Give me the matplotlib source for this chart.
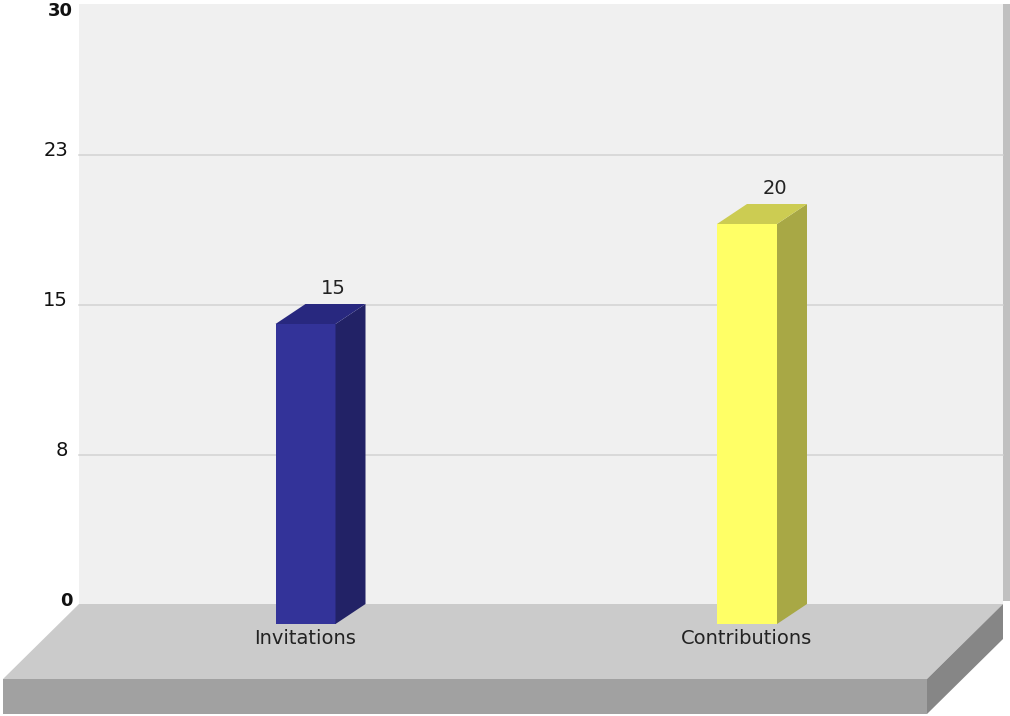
import matplotlib
matplotlib.use("Agg")
import matplotlib.pyplot as plt
from matplotlib.patches import Polygon

plt.rcParams["font.family"] = ["DejaVu Sans"]

categories = ["Invitations", "Contributions"]
values = [15, 20]
front_colors = ["#333399", "#ffff66"]
side_colors = ["#222266", "#a8a845"]
top_colors = ["#28287f", "#cccc52"]

y_ticks = [0, 7.5, 15, 22.5, 30]
y_tick_labels = ["0", "8", "15", "23", "30"]

W, H = 1010, 716
PX_PER_UNIT = 20.0   # vertical pixels for one value unit
BASE_PX = 604        # pixel row of value 0 on the back wall
X0_PX = 305.5        # centre of the first bar
X_STEP_PX = 441.5    # distance between bars
BAR_W = 60
DEPTH_X, DEPTH_Y = 30, 20


def px(x):
    return (x - X0_PX) / X_STEP_PX


def py(y):
    return (BASE_PX - y) / PX_PER_UNIT


def shape(ax, points, color, zorder=2):
    pts = [(px(x), py(y)) for x, y in points]
    ax.add_patch(Polygon(pts, closed=True, facecolor=color, edgecolor="none", zorder=zorder))


fig = plt.figure(figsize=(W / 100, H / 100), dpi=100)
ax = fig.add_axes([0, 0, 1, 1])
ax.set_xlim(px(0), px(W))
ax.set_ylim(py(H), py(0))
ax.axis("off")

# back wall and its shadow strip
shape(ax, [(79, 4), (1003, 4), (1003, 604), (79, 604)], "#f0f0f0", 1)
shape(ax, [(1003, 4), (1010, 4), (1010, 601), (1003, 601)], "#c0c0c0", 1)

for t in y_ticks[1:-1]:
    # lines sit just under their nominal row
    ax.plot([px(79), px(1003)], [t - 0.04, t - 0.04], color="#d2d2d2", lw=1.1, zorder=1.5)

# floor slab
shape(ax, [(79, 604), (1003, 604), (927, 679), (3, 679)], "#cbcbcb")
shape(ax, [(3, 679), (927, 679), (927, 714), (3, 714)], "#a1a1a1")
shape(ax, [(927, 679), (1003, 604), (1003, 639), (927, 714)], "#868686")

# bars, drawn from the front face bottom at the floor
for i, (name, v) in enumerate(zip(categories, values)):
    cx = X0_PX + i * X_STEP_PX
    left = cx - BAR_W / 2
    right = cx + BAR_W / 2
    bottom = BASE_PX + DEPTH_Y
    top = bottom - v * PX_PER_UNIT
    shape(ax, [(left, top), (right, top), (right, bottom), (left, bottom)], front_colors[i], 3)
    shape(ax, [(right, top), (right + DEPTH_X, top - DEPTH_Y),
               (right + DEPTH_X, bottom - DEPTH_Y), (right, bottom)], side_colors[i], 3)
    shape(ax, [(left, top), (left + DEPTH_X, top - DEPTH_Y),
               (right + DEPTH_X, top - DEPTH_Y), (right, top)], top_colors[i], 3)
    ax.text(px(cx + 28), py(top - 35), str(v), ha="center", va="center",
            fontsize=14, color="#222222", zorder=4)
    ax.text(px(cx), py(639), name, ha="center", va="center",
            fontsize=14, color="#222222", zorder=4)

# value axis labels, first and last are bold
for t, lab in zip(y_ticks, y_tick_labels):
    bold = t in (y_ticks[0], y_ticks[-1])
    xp = 72.5 if bold else 68
    if t == y_ticks[-1]:
        yp = 11
    else:
        yp = BASE_PX - t * PX_PER_UNIT - 3
    ax.text(px(xp), py(yp), lab, ha="right", va="center", fontsize=13 if bold else 14,
            fontweight="bold" if bold else "normal", color="#111111", zorder=4)

fig.savefig("out.png", dpi=100)
